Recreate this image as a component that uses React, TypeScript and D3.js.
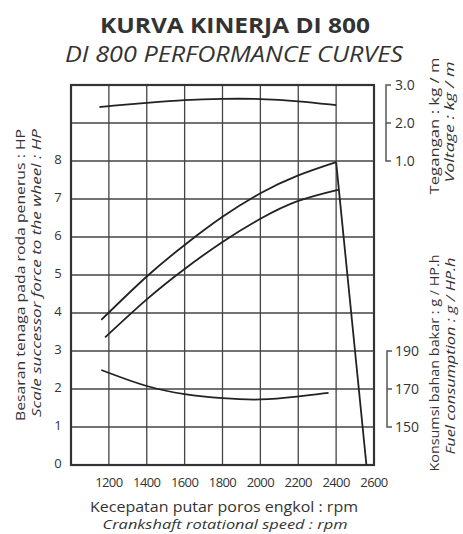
import React from "react";
import * as d3 from "d3";

// ---- data ----
const rpmTicks = [1200, 1400, 1600, 1800, 2000, 2200, 2400, 2600];
const hpTicks = [0, 1, 2, 3, 4, 5, 6, 7, 8];
const voltageTicks = [1.0, 2.0, 3.0];
const fuelTicks = [150, 170, 190];

const rpmPowerA = [1160, 1400, 1600, 1800, 2000, 2200, 2400];
const powerA = [3.82, 4.96, 5.79, 6.53, 7.15, 7.62, 7.97];

const rpmPowerB = [1180, 1400, 1600, 1800, 2000, 2200, 2415];
const powerB = [3.36, 4.36, 5.16, 5.87, 6.48, 6.95, 7.25];

const rpmDrop = [2400, 2560];
const powerDrop = [7.97, 0];

const rpmVoltage = [1150, 1200, 1400, 1600, 1800, 2000, 2200, 2400];
const voltage = [2.42, 2.45, 2.53, 2.61, 2.64, 2.64, 2.58, 2.47];

const rpmFuel = [1160, 1200, 1400, 1600, 1800, 2000, 2200, 2360];
const fuel = [180, 178.5, 171, 167, 165, 164, 166, 168];

const FONT = "'Open Sans', 'Noto Sans', sans-serif";

export default function App() {
  const left = 71, right = 374, top = 85, bottom = 465;
  const x = d3.scaleLinear().domain([1000, 2600]).range([left, right]);
  const y = d3.scaleLinear().domain([0, 10]).range([bottom, top]);
  const yV = d3.scaleLinear().domain([1, 3]).range([y(8), y(10)]);
  const yF = d3.scaleLinear().domain([150, 190]).range([y(1), y(3)]);

  const mk = (xs: number[], ys: number[], sy: (v: number) => number, curve: d3.CurveFactory = d3.curveNatural) =>
    d3.line<number>().x((_, i) => x(xs[i])).y((_, i) => sy(ys[i])).curve(curve)(xs) || "";

  const gridX = d3.range(1200, 2600, 200);
  const gridY = d3.range(1, 10, 1);
  const textColor = "#333";
  const lineColor = "#222";

  const bracket = (y1: number, ym: number, y2: number, bx: number) =>
    `M${bx + 5},${y1} H${bx} V${y2} H${bx + 5} M${bx},${ym} H${bx + 5}`;

  return (
    <svg width={463} height={534} style={{ display: "block", position: "absolute", left: 0, top: 0, background: "#fff" }}
      fontFamily={FONT}>
      {/* Titles */}
      <text x={235} y={33} textAnchor="middle" fontSize={22} fontWeight={700} fill={textColor}
        textLength={270} lengthAdjust="spacingAndGlyphs">KURVA KINERJA DI 800</text>
      <text x={234} y={62} textAnchor="middle" fontSize={22} fontStyle="italic" fill={textColor}
        textLength={338} lengthAdjust="spacingAndGlyphs">DI 800 PERFORMANCE CURVES</text>

      {/* grid */}
      {gridX.map((v) => (
        <line key={"gx" + v} x1={x(v)} x2={x(v)} y1={top} y2={bottom} stroke="#444" strokeWidth={1.3} />
      ))}
      {gridY.map((v) => (
        <line key={"gy" + v} x1={left} x2={right} y1={y(v)} y2={y(v)} stroke="#444" strokeWidth={1.3} />
      ))}
      <rect x={left} y={top} width={right - left} height={bottom - top} fill="none" stroke="#333" strokeWidth={2.2} />

      {/* curves */}
      <path d={mk(rpmVoltage, voltage, yV, d3.curveBasis)} fill="none" stroke={lineColor} strokeWidth={1.8} />
      <path d={mk(rpmPowerA, powerA, y)} fill="none" stroke={lineColor} strokeWidth={1.8} />
      <path d={mk(rpmPowerB, powerB, y)} fill="none" stroke={lineColor} strokeWidth={1.8} />
      <path d={mk(rpmDrop, powerDrop, y, d3.curveLinear)} fill="none" stroke={lineColor} strokeWidth={1.8} />
      <path d={mk(rpmFuel, fuel, yF, d3.curveBasis)} fill="none" stroke={lineColor} strokeWidth={1.8} />

      {/* x tick labels */}
      {rpmTicks.map((v) => (
        <text key={"xt" + v} x={x(v)} y={487} textAnchor="middle" fontSize={13} letterSpacing={-0.6} fill={textColor}>{v}</text>
      ))}
      {/* y tick labels */}
      {hpTicks.map((v) => (
        <text key={"yt" + v} x={58} y={y(v) + 3} textAnchor="middle" fontSize={13} fill={textColor}>{v}</text>
      ))}

      {/* right brackets */}
      <path d={bracket(yV(3), yV(2), yV(1), 386)} fill="none" stroke="#555" strokeWidth={1.5} />
      {voltageTicks.map((v) => (
        <text key={"vt" + v} x={395} y={yV(v) + 5} fontSize={14} fill={textColor}>{v.toFixed(1)}</text>
      ))}
      <path d={bracket(yF(190), yF(170), yF(150), 387)} fill="none" stroke="#555" strokeWidth={1.5} />
      {fuelTicks.map((v) => (
        <text key={"ft" + v} x={395} y={yF(v) + 5} fontSize={14} fill={textColor}>{v}</text>
      ))}

      {/* axis titles */}
      <text transform="translate(20,275) rotate(-90)" textAnchor="middle" dominantBaseline="central" fontSize={13.5}
        fill={textColor} textLength={292} lengthAdjust="spacingAndGlyphs">Besaran tenaga pada roda penerus : HP</text>
      <text transform="translate(36,273) rotate(-90)" textAnchor="middle" dominantBaseline="central" fontSize={13.5}
        fontStyle="italic" fill={textColor} textLength={288} lengthAdjust="spacingAndGlyphs">Scale successor force to the wheel : HP</text>

      <text transform="translate(434,126) rotate(-90)" textAnchor="middle" dominantBaseline="central" fontSize={13.5}
        fill={textColor} textLength={137} lengthAdjust="spacingAndGlyphs">Tegangan : kg / m</text>
      <text transform="translate(449,122) rotate(-90)" textAnchor="middle" dominantBaseline="central" fontSize={13.5}
        fontStyle="italic" fill={textColor} textLength={121} lengthAdjust="spacingAndGlyphs">Voltage : kg / m</text>

      <text transform="translate(434,363) rotate(-90)" textAnchor="middle" dominantBaseline="central" fontSize={13.5}
        fill={textColor} textLength={217} lengthAdjust="spacingAndGlyphs">Konsumsi bahan bakar : g / HP.h</text>
      <text transform="translate(450,356) rotate(-90)" textAnchor="middle" dominantBaseline="central" fontSize={13.5}
        fontStyle="italic" fill={textColor} textLength={197} lengthAdjust="spacingAndGlyphs">Fuel consumption : g / HP.h</text>

      <text x={224} y={512} textAnchor="middle" fontSize={14} fill={textColor}
        textLength={268} lengthAdjust="spacingAndGlyphs">Kecepatan putar poros engkol : rpm</text>
      <text x={225} y={529} textAnchor="middle" fontSize={13.5} fontStyle="italic" fill={textColor}
        textLength={245} lengthAdjust="spacingAndGlyphs">Crankshaft rotational speed : rpm</text>
    </svg>
  );
}
